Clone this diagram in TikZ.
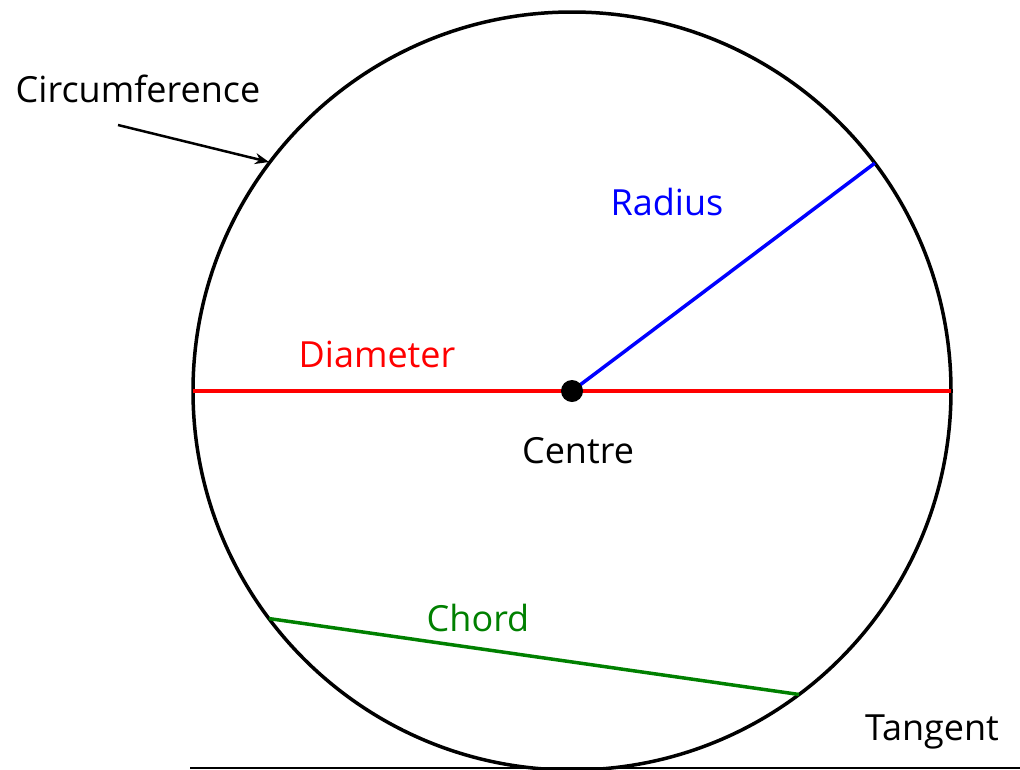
\documentclass[tikz,border=0pt]{standalone}
\usepackage{fontspec}
\setmainfont{Open Sans}
\usetikzlibrary{arrows.meta}
\begin{document}
\begin{tikzpicture}[x=1pt,y=-1pt,
  lbl/.style={inner sep=0pt,font=\fontsize{36}{40}\selectfont},
  circ/.style={line width=3.5pt,black}]
\useasboundingbox (0,0) rectangle (1020,769);
\coordinate (O) at (572,391);
\draw[circ] (O) circle [radius=379];
\path (O) ++(-379,0) coordinate (DL) (O) ++(379,0) coordinate (DR);
\path (O) ++(36.96:379 and -379) coordinate (R);
\path (O) ++(-143.1:379 and -379) coordinate (C1);
\path (O) ++(-53.2:379 and -379) coordinate (C2);
\draw[red,line width=3.5pt] (DL) -- (DR);
\draw[blue,line width=3.5pt] (O) -- (R);
\draw[green!50!black,line width=3.5pt] (C1) -- (C2);
\fill[black] (O) circle [radius=11];
\coordinate (T1) at (190,768);
\coordinate (T2) at (1020,768);
\draw[line width=1.5pt] (T1) -- (T2);
\node[lbl] (circumference) at (138,89) {Circumference};
\coordinate (A1) at (118,125);
\coordinate (A2) at (269,162);
\draw[line width=2.5pt,-{Stealth[length=14pt,width=11pt]}] (A1) -- (A2);
\node[lbl,blue] (radius) at (667,202) {Radius};
\node[lbl,red] (diameter) at (377,354) {Diameter};
\node[lbl] (centre) at (578,451) {Centre};
\node[lbl,green!50!black] (chord) at (478,618) {Chord};
\node[lbl] (tangent) at (932,732) {Tangent};
\end{tikzpicture}
\end{document}
